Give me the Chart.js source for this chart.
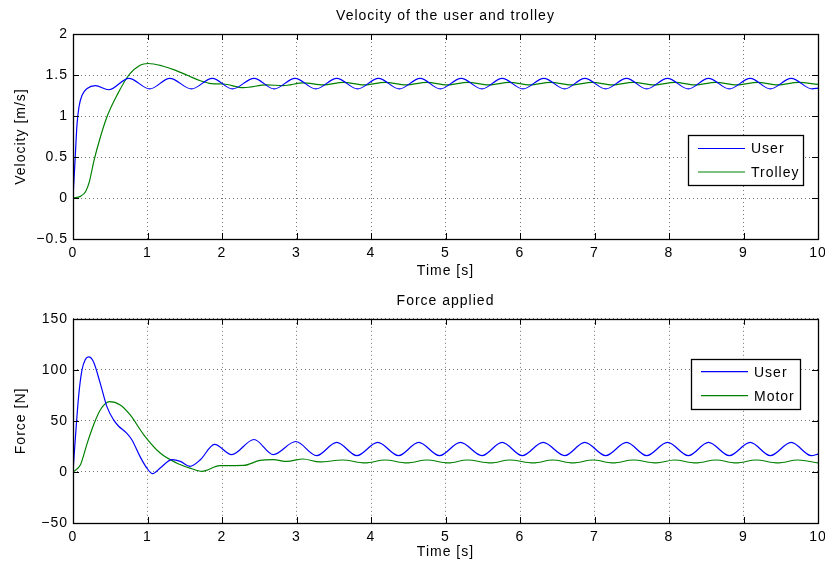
<!DOCTYPE html>
<html>
<head>
<meta charset="utf-8">
<title>Velocity and force</title>
<script src="https://cdn.jsdelivr.net/npm/chart.js@4.4.1/dist/chart.umd.min.js"></script>
<style>
  html, body { margin: 0; padding: 0; background: #fff; }
  #wrap { position: relative; width: 825px; height: 565px; }
  canvas { position: absolute; left: 0; }
  #velChart { top: 0; }
  #forceChart { top: 282px; }
</style>
</head>
<body>
<div id="wrap">
  <canvas id="velChart" width="825" height="282"></canvas>
  <canvas id="forceChart" width="825" height="283"></canvas>
</div>
<script>
"use strict";

// ---------- data ----------
const timeTicks = [0, 1, 2, 3, 4, 5, 6, 7, 8, 9, 10];
const velTicks = [-0.5, 0, 0.5, 1, 1.5, 2];
const forceTicks = [-50, 0, 50, 100, 150];

// user velocity [m/s]
const userVelT = [0, 0.027, 0.054, 0.08, 0.12, 0.19, 0.30, 0.48, 0.75, 1.03, 1.30, 1.59, 1.87, 2.14, 2.43, 2.70, 2.98,
  3.26, 3.54, 3.82, 4.10, 4.38, 4.66, 4.93, 5.21, 5.49, 5.76, 6.04, 6.32, 6.60, 6.87, 7.15, 7.43, 7.70,
  7.98, 8.26, 8.53, 8.81, 9.09, 9.36, 9.64, 9.92, 10];
const userVel = [0, 0.45, 0.9, 1.11, 1.25, 1.335, 1.37, 1.32, 1.46, 1.33, 1.46, 1.33, 1.46, 1.33, 1.46, 1.33, 1.46,
  1.33, 1.46, 1.33, 1.46, 1.33, 1.46, 1.33, 1.46, 1.33, 1.46, 1.33, 1.46, 1.33, 1.46, 1.33, 1.46, 1.33,
  1.46, 1.33, 1.46, 1.33, 1.46, 1.33, 1.46, 1.33, 1.34];

// trolley velocity [m/s]
const trolleyVelT = [0, 0.10, 0.17, 0.22, 0.28, 0.36, 0.46, 0.60, 0.75, 0.90, 1.01, 1.20, 1.37, 1.55, 1.71, 1.86, 2.02,
  2.29, 2.60, 2.82, 3.09, 3.36, 3.63, 3.91, 4.19, 4.47, 4.75, 5.02, 5.30, 5.58, 5.86, 6.13, 6.41, 6.69,
  6.97, 7.24, 7.52, 7.80, 8.08, 8.35, 8.63, 8.91, 9.19, 9.46, 9.74, 10];
const trolleyVel = [0, 0.02, 0.08, 0.2, 0.45, 0.72, 1.0, 1.27, 1.5, 1.62, 1.64, 1.61, 1.56, 1.49, 1.43, 1.395, 1.39,
  1.345, 1.38, 1.37, 1.405, 1.38, 1.41, 1.38, 1.41, 1.38, 1.41, 1.38, 1.41, 1.38, 1.41, 1.38, 1.41, 1.38,
  1.41, 1.38, 1.41, 1.38, 1.41, 1.38, 1.41, 1.38, 1.41, 1.38, 1.41, 1.385];

// user force [N]
const userForceT = [0, 0.03, 0.075, 0.12, 0.165, 0.21, 0.276, 0.366, 0.455, 0.545, 0.61, 0.72, 0.79, 0.90,
  0.99, 1.07, 1.17, 1.33, 1.44, 1.57, 1.71, 1.90, 2.13, 2.43, 2.69, 2.99, 3.27, 3.54, 3.81, 4.09, 4.37,
  4.64, 4.92, 5.20, 5.49, 5.76, 6.03, 6.31, 6.60, 6.87, 7.15, 7.43, 7.70, 7.98, 8.26, 8.53, 8.81, 9.09,
  9.36, 9.64, 9.91, 10];
const userForce = [0, 31.5, 73.7, 99.7, 110, 112.7, 107.8, 86.7, 64, 51, 45, 38, 31.5, 15,
  3.9, -1.7, 3.9, 12, 10.4, 5.5, 12, 27, 17, 31.8, 17, 29.8, 16, 29, 16, 29, 16,
  29, 16, 29, 16, 29, 16, 29, 16, 29, 16, 29, 16, 29, 16, 29, 16, 29,
  16, 29, 16, 17.5];

// motor force [N]
const motorForceT = [0, 0.10, 0.19, 0.276, 0.366, 0.49, 0.634, 0.768, 0.95, 1.17, 1.39, 1.58, 1.73, 1.97,
  2.29, 2.51, 2.69, 2.87, 3.09, 3.31, 3.62, 3.92, 4.19, 4.48, 4.75, 5.04, 5.29, 5.61, 5.86, 6.18, 6.44,
  6.71, 6.98, 7.25, 7.52, 7.83, 8.07, 8.36, 8.63, 8.90, 9.17, 9.46, 9.73, 10];
const motorForce = [0, 7, 28, 46, 60.7, 68.8, 65.6, 55.8, 36.4, 18.5, 8.8, 3.5, 0.6, 6.1,
  6.4, 11.3, 12, 10.3, 12.7, 9.8, 11.7, 8.8, 11.7, 8.8, 11.7, 8.8, 11.7, 8.8, 11.7, 8.8, 11.7,
  8.8, 11.7, 8.8, 11.7, 8.8, 11.7, 8.8, 11.7, 8.8, 11.7, 8.8, 11.7, 8.8];

// ---------- helpers ----------
const FONT = "'Liberation Sans', Arial, Helvetica, sans-serif";
const BLUE = "#0000ff";
const GREEN = "#008000";

function pairs(ts, vs) {
  return ts.map((t, i) => ({ x: t, y: vs[i] }));
}

function series(label, ts, vs, color) {
  return {
    label: label,
    data: pairs(ts, vs),
    borderColor: color,
    backgroundColor: color,
    borderWidth: 1.2,
    pointRadius: 0,
    fill: false,
    cubicInterpolationMode: "monotone",
  };
}

function fmt(v) {
  return String(v).replace("-", "\u2212");
}

// box with inward tick marks on every side, then the legend on top
const matlabAxes = {
  id: "matlabAxes",
  beforeDraw(chart) {
    chart.ctx.letterSpacing = "1px";
  },
  afterDatasetsDraw(chart, args, opts) {
    const { ctx, chartArea: ca, scales } = chart;
    const tick = 6;
    ctx.save();
    ctx.letterSpacing = "0px";
    ctx.strokeStyle = "#000";
    ctx.lineWidth = 1;
    ctx.beginPath();
    scales.x.ticks.forEach((t) => {
      const px = Math.round(scales.x.getPixelForValue(t.value)) + 0.5;
      ctx.moveTo(px, ca.bottom);
      ctx.lineTo(px, ca.bottom - tick);
      ctx.moveTo(px, ca.top);
      ctx.lineTo(px, ca.top + tick);
    });
    scales.y.ticks.forEach((t) => {
      const py = Math.round(scales.y.getPixelForValue(t.value)) + 0.5;
      ctx.moveTo(ca.left, py);
      ctx.lineTo(ca.left + tick, py);
      ctx.moveTo(ca.right, py);
      ctx.lineTo(ca.right - tick, py);
    });
    ctx.stroke();
    ctx.lineWidth = 1.3;
    ctx.strokeRect(Math.round(ca.left) + 0.5, Math.round(ca.top) + 0.5,
      Math.round(ca.right - ca.left), Math.round(ca.bottom - ca.top));

    // legend
    const lg = opts.legend;
    ctx.fillStyle = "#fff";
    ctx.fillRect(lg.left, lg.top, lg.width, lg.height);
    ctx.lineWidth = 1.3;
    ctx.strokeStyle = "#000";
    ctx.strokeRect(lg.left + 0.5, lg.top + 0.5, lg.width, lg.height);
    ctx.font = "14px " + FONT;
    ctx.letterSpacing = "1px";
    ctx.textBaseline = "middle";
    ctx.textAlign = "left";
    chart.data.datasets.forEach((ds, i) => {
      const ly = lg.top + lg.rowStart + i * lg.rowGap;
      ctx.strokeStyle = ds.borderColor;
      ctx.lineWidth = ds.borderWidth;
      ctx.beginPath();
      ctx.moveTo(lg.left + 10, ly);
      ctx.lineTo(lg.left + 57, ly);
      ctx.stroke();
      ctx.fillStyle = "#000";
      ctx.fillText(ds.label, lg.left + 63, ly + 1);
    });
    ctx.restore();
  },
};

function makeOptions(cfg) {
  return {
    responsive: false,
    animation: false,
    devicePixelRatio: 1,
    events: [],
    layout: { padding: { top: 0, left: 0, right: 7, bottom: 0 } },
    plugins: {
      legend: { display: false },
      tooltip: { enabled: false },
      title: {
        display: true,
        text: cfg.title,
        fullSize: false,
        color: "#000",
        font: { family: FONT, size: 14, weight: "normal" },
        padding: cfg.titlePad,
      },
      matlabAxes: { legend: cfg.legend },
    },
    scales: {
      x: {
        type: "linear",
        min: 0,
        max: 10,
        afterBuildTicks: (s) => { s.ticks = timeTicks.map((v) => ({ value: v })); },
        afterFit: (s) => { s.height = cfg.xHeight; s.paddingLeft = 0; s.paddingRight = 0; },
        ticks: { color: "#000", padding: 6, font: { family: FONT, size: 14 }, maxRotation: 0, callback: fmt },
        grid: { color: "rgba(0,0,0,0.55)", lineWidth: 1, drawTicks: false },
        border: { display: false, dash: [1, 3] },
        title: {
          display: true,
          text: "Time [s]",
          color: "#000",
          font: { family: FONT, size: 14 },
          padding: { top: 0, bottom: cfg.xTitlePad },
        },
      },
      y: {
        type: "linear",
        min: cfg.yTicks[0],
        max: cfg.yTicks[cfg.yTicks.length - 1],
        afterBuildTicks: (s) => { s.ticks = cfg.yTicks.map((v) => ({ value: v })); },
        afterFit: (s) => { s.width = 73; s.paddingTop = 0; s.paddingBottom = 0; },
        ticks: { color: "#000", padding: 5, font: { family: FONT, size: 14 }, callback: fmt },
        grid: { color: "rgba(0,0,0,0.55)", lineWidth: 1, drawTicks: false },
        border: { display: false, dash: [1, 3] },
        title: {
          display: true,
          text: cfg.yLabel,
          color: "#000",
          font: { family: FONT, size: 14 },
          padding: { top: 12.6, bottom: 0 },
        },
      },
    },
  };
}

new Chart(document.getElementById("velChart"), {
  type: "line",
  data: {
    datasets: [
      series("User", userVelT, userVel, BLUE),
      series("Trolley", trolleyVelT, trolleyVel, GREEN),
    ],
  },
  options: makeOptions({
    title: "Velocity of the user and trolley",
    titlePad: { top: 8, bottom: 9.2 },
    yLabel: "Velocity [m/s]",
    yTicks: velTicks,
    xHeight: 43,
    xTitlePad: 2,
    legend: { left: 688, top: 135, width: 115, height: 50, rowStart: 13.5, rowGap: 23.5 },
  }),
  plugins: [matlabAxes],
});

new Chart(document.getElementById("forceChart"), {
  type: "line",
  data: {
    datasets: [
      series("User", userForceT, userForce, BLUE),
      series("Motor", motorForceT, motorForce, GREEN),
    ],
  },
  options: makeOptions({
    title: "Force applied",
    titlePad: { top: 11, bottom: 9 },
    yLabel: "Force [N]",
    yTicks: forceTicks,
    xHeight: 42,
    xTitlePad: 4,
    legend: { left: 691, top: 77, width: 109, height: 50, rowStart: 12.7, rowGap: 24 },
  }),
  plugins: [matlabAxes],
});
</script>
</body>
</html>
